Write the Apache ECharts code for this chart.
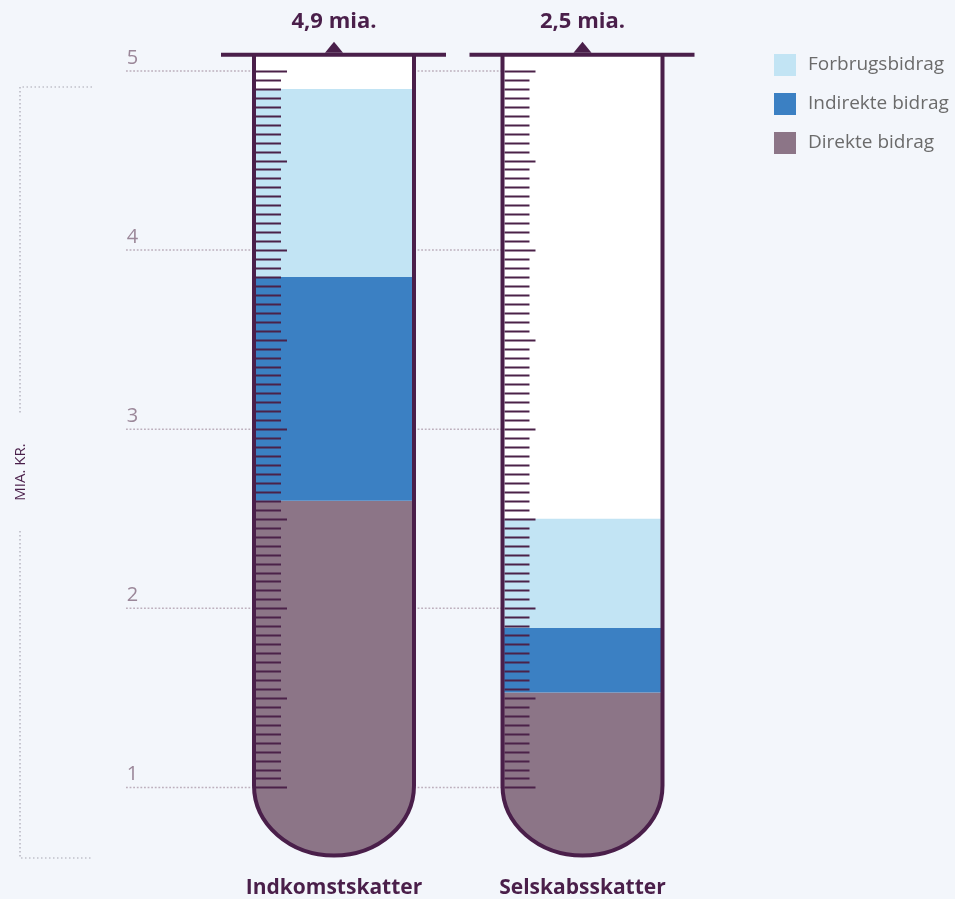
<!DOCTYPE html>
<html>
<head>
<meta charset="utf-8">
<script src="https://cdn.jsdelivr.net/npm/echarts@6/dist/echarts.min.js"></script>
<style>
  html, body { margin: 0; padding: 0; background: #f3f6fb; }
  #chart { width: 955px; height: 899px; }
</style>
</head>
<body>
<div id="chart"></div>
<script>
// ---- data ----
const categories = ['Indkomstskatter', 'Selskabsskatter'];
const direkte = [2.6, 1.53];
const indirekte = [1.25, 0.36];
const forbrug = [1.05, 0.61];
const yTicks = [1, 2, 3, 4, 5];
const seriesNames = ['Forbrugsbidrag', 'Indirekte bidrag', 'Direkte bidrag'];
const unitLabel = 'MIA. KR.';

// ---- styling / geometry ----
const FONT = 'Open Sans';
const DARK = '#4a1f4a';
const COL_FORBRUG = '#c2e4f4';
const COL_INDIREKTE = '#3b80c3';
const COL_DIREKTE = '#8c7587';
const HW = 80;          // half width of tube (px, wall centre line)
const RY = 70;          // vertical radius of tube bottom (px)
const TUBE_TOP = 5.09;  // axis value of tube mouth
const TUBE_BOTTOM = 0.62;
const K = 0.5523;

function tubePath(cx, yTop, yBot, closed) {
  const yc = yBot - RY;
  let d = 'M' + (cx - HW) + ',' + yTop + ' L' + (cx - HW) + ',' + yc +
    ' C' + (cx - HW) + ',' + (yc + K * RY) + ' ' + (cx - K * HW) + ',' + yBot + ' ' + cx + ',' + yBot +
    ' C' + (cx + K * HW) + ',' + yBot + ' ' + (cx + HW) + ',' + (yc + K * RY) + ' ' + (cx + HW) + ',' + yc +
    ' L' + (cx + HW) + ',' + yTop;
  if (closed) d += ' Z';
  return d;
}

// stacked segments
const dirData = categories.map((c, i) => [i, TUBE_BOTTOM, direkte[i]]);
const indData = categories.map((c, i) => [i, direkte[i], direkte[i] + indirekte[i]]);
const forData = categories.map((c, i) => [i, direkte[i] + indirekte[i], direkte[i] + indirekte[i] + forbrug[i]]);
const totals = categories.map((c, i) => direkte[i] + indirekte[i] + forbrug[i]);

function rectSegment(params, api) {
  const i = api.value(0);
  const top = api.coord([i, api.value(2)]);
  const base = api.coord([i, api.value(1)]);
  return {
    type: 'rect',
    shape: { x: top[0] - HW, y: top[1], width: 2 * HW, height: base[1] - top[1] },
    style: { fill: api.visual('color') }
  };
}
function bottomSegment(params, api) {
  const i = api.value(0);
  const top = api.coord([i, api.value(2)]);
  const base = api.coord([i, api.value(1)]);
  return {
    type: 'path',
    shape: { pathData: tubePath(top[0], top[1], base[1], true) },
    style: { fill: api.visual('color') }
  };
}

const chart = echarts.init(document.getElementById('chart'));
chart.setOption({
  backgroundColor: '#f3f6fb',
  animation: false,
  textStyle: { fontFamily: FONT },
  grid: { left: 209.75, right: 248.25, top: 35.15, bottom: 21.4 },
  legend: {
    data: seriesNames,
    orient: 'vertical',
    left: 774,
    top: 54,
    padding: 0,
    itemWidth: 22,
    itemHeight: 22,
    itemGap: 17,
    icon: 'rect',
    selectedMode: false,
    textStyle: { fontSize: 19, color: '#6b6b6b', fontFamily: FONT, padding: [0, 0, 0, 7] }
  },
  xAxis: {
    type: 'category',
    data: categories,
    axisLine: { show: false },
    axisTick: { show: false },
    axisLabel: { fontSize: 21, fontWeight: 'bold', color: DARK, fontFamily: FONT, margin: 1 }
  },
  yAxis: {
    type: 'value',
    min: 0.5,
    max: 5.2,
    splitLine: { show: false },
    axisLine: { show: false },
    axisTick: { show: false },
    axisLabel: {
      customValues: yTicks,
      align: 'left',
      margin: 83,
      verticalAlign: 'bottom',
      padding: [0, 0, 3, 0],
      fontSize: 20,
      color: '#9b8799',
      fontFamily: FONT
    }
  },
  graphic: [
    { type: 'polyline', shape: { points: [[92, 87], [20, 87], [20, 415]] },
      style: { stroke: '#a8a6b2', lineWidth: 1.2, lineDash: [1.5, 2.5], fill: null } },
    { type: 'polyline', shape: { points: [[20, 531], [20, 858], [92, 858]] },
      style: { stroke: '#a8a6b2', lineWidth: 1.2, lineDash: [1.5, 2.5], fill: null } },
    { type: 'text', x: 21, y: 472, rotation: Math.PI / 2,
      style: { text: unitLabel, fontSize: 15, fill: DARK, fontFamily: FONT, align: 'center', verticalAlign: 'middle' } }
  ],
  series: [
    {
      type: 'custom', name: 'gridlines', z: 0, silent: true,
      data: yTicks.map(v => [0, v]),
      renderItem: function (params, api) {
        const p = api.coord([0, api.value(1)]);
        const end = api.coord([1, api.value(1)]);
        return {
          type: 'line',
          shape: { x1: 126, y1: p[1], x2: end[0], y2: p[1] },
          style: { stroke: '#bdb0bd', lineWidth: 1.5, lineDash: [1.8, 1.8] }
        };
      }
    },
    {
      type: 'custom', name: 'tubeBack', z: 1, silent: true,
      data: categories.map((c, i) => [i, TUBE_TOP, TUBE_BOTTOM]),
      renderItem: function (params, api) {
        const i = api.value(0);
        const t = api.coord([i, api.value(1)]);
        const b = api.coord([i, api.value(2)]);
        return { type: 'path', shape: { pathData: tubePath(t[0], t[1], b[1], true) }, style: { fill: '#ffffff' } };
      }
    },
    { type: 'custom', name: seriesNames[2], z: 2, itemStyle: { color: COL_DIREKTE }, data: dirData, renderItem: bottomSegment },
    { type: 'custom', name: seriesNames[1], z: 2, itemStyle: { color: COL_INDIREKTE }, data: indData, renderItem: rectSegment },
    { type: 'custom', name: seriesNames[0], z: 2, itemStyle: { color: COL_FORBRUG }, data: forData, renderItem: rectSegment },
    {
      type: 'custom', name: 'tubeFront', z: 3, silent: true,
      data: categories.map((c, i) => [i, TUBE_TOP, TUBE_BOTTOM, totals[i]]),
      renderItem: function (params, api) {
        const i = api.value(0);
        const t = api.coord([i, api.value(1)]);
        const b = api.coord([i, api.value(2)]);
        const cx = t[0];
        const children = [];
        // measuring ticks every 0.05 between first and last axis tick
        const lo = yTicks[0], hi = yTicks[yTicks.length - 1];
        const n = Math.round((hi - lo) / 0.05);
        const inner = cx - HW + 2;
        for (let k = 0; k <= n; k++) {
          const v = lo + k * 0.05;
          const y = Math.round(api.coord([i, v])[1]) + 0.5;
          const len = (k % 10 === 0) ? 31 : 25;
          children.push({ type: 'line', shape: { x1: inner, y1: y, x2: inner + len, y2: y },
            style: { stroke: '#4b2148', lineWidth: 2 } });
        }
        children.push({ type: 'path', shape: { pathData: tubePath(cx, t[1], b[1], false) },
          style: { stroke: DARK, lineWidth: 4, fill: null } });
        children.push({ type: 'line', shape: { x1: cx - 113, y1: t[1], x2: cx + 112, y2: t[1] },
          style: { stroke: DARK, lineWidth: 4 } });
        children.push({ type: 'polygon', shape: { points: [[cx - 9, t[1] - 2], [cx, t[1] - 13], [cx + 9, t[1] - 2]] },
          style: { fill: DARK } });
        const label = api.value(3).toFixed(1).replace('.', ',') + ' mia.';
        children.push({ type: 'text', x: cx, y: t[1] - 33,
          style: { text: label, fontSize: 22, fontWeight: 'bold', fontFamily: FONT, fill: DARK, align: 'center', verticalAlign: 'middle' } });
        return { type: 'group', children: children };
      }
    }
  ]
});
</script>
</body>
</html>
